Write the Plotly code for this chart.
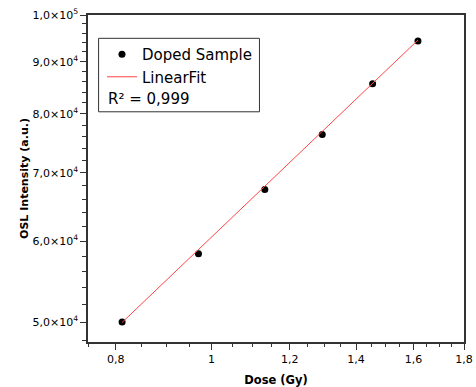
import plotly.graph_objects as go

# ---- data ----
dose = [0.812, 0.970, 1.132, 1.294, 1.455, 1.617]
intensity = [50000, 58320, 67440, 76370, 85620, 94300]
fit_dose = [0.812, 1.617]
fit_intensity = [49950, 94500]

x_tickvals = [0.8, 1.0, 1.2, 1.4, 1.6, 1.8]
x_ticktext = ["0,8", "1", "1,2", "1,4", "1,6", "1,8"]
x_minor = [0.75, 0.85, 0.9, 0.95, 1.05, 1.1, 1.15, 1.25, 1.3, 1.35,
           1.45, 1.5, 1.55, 1.65, 1.7, 1.75]
y_tickvals = [50000, 60000, 70000, 80000, 90000, 100000]
y_ticktext = ["5,0×10<sup>4</sup>", "6,0×10<sup>4</sup>", "7,0×10<sup>4</sup>",
              "8,0×10<sup>4</sup>", "9,0×10<sup>4</sup>", "1,0×10<sup>5</sup>"]
y_minor = [48000, 52000, 54000, 56000, 58000, 62000, 64000, 66000, 68000,
           72000, 74000, 76000, 78000, 82000, 84000, 86000, 88000,
           92000, 94000, 96000, 98000]

FONT = "DejaVu Sans"

fig = go.Figure()
fig.add_trace(go.Scatter(
    x=dose, y=intensity, mode="markers", name="Doped Sample",
    marker=dict(color="black", size=7),
))
fig.add_trace(go.Scatter(
    x=fit_dose, y=fit_intensity, mode="lines", name="LinearFit",
    line=dict(color="rgb(255,70,70)", width=1),
))

L, R, T, B = 87.7, 12, 15, 45.3
W, H = 476, 387
pw, ph = W - L - R, H - T - B

def px(xp):
    return (xp - L) / pw

def py(yp):
    return (H - B - yp) / ph

fig.update_layout(
    width=W, height=H,
    margin=dict(l=L, r=R, t=T, b=B, pad=0, autoexpand=False),
    paper_bgcolor="white", plot_bgcolor="white",
    font=dict(family=FONT, size=11, color="black"),
    showlegend=True,
    legend=dict(
        x=px(101.7), y=py(38), xanchor="left", yanchor="top",
        bgcolor="rgba(0,0,0,0)", borderwidth=0,
        font=dict(family=FONT, size=15, color="black"),
        itemwidth=30,
    ),
    xaxis=dict(
        type="log", range=[-0.12494, 0.25527], automargin=False,
        tickmode="array", tickvals=x_tickvals, ticktext=x_ticktext,
        ticks="outside", ticklen=6, tickwidth=1, tickcolor="#333",
        minor=dict(tickmode="array", tickvals=x_minor, ticks="outside",
                   ticklen=3, tickwidth=1, tickcolor="#333", showgrid=False),
        showgrid=False, zeroline=False,
        showline=True, linecolor="#333", linewidth=1.5, mirror=True,
        tickfont=dict(family=FONT, size=11),
        title=dict(text="<b>Dose (Gy)</b>", font=dict(family=FONT, size=11.5),
                   standoff=11),
    ),
    yaxis=dict(
        type="log", range=[4.67937, 5.0], automargin=False,
        tickmode="array", tickvals=y_tickvals, ticktext=y_ticktext,
        ticks="outside", ticklen=6, tickwidth=1, tickcolor="#333",
        minor=dict(tickmode="array", tickvals=y_minor, ticks="outside",
                   ticklen=4, tickwidth=1, tickcolor="#333", showgrid=False),
        showgrid=False, zeroline=False,
        showline=True, linecolor="#333", linewidth=1.5, mirror=True,
        tickfont=dict(family=FONT, size=11),
        title=dict(text="<b>OSL Intensity (a.u.)</b>", font=dict(family=FONT, size=11),
                   standoff=2),
    ),
    shapes=[dict(
        type="rect", xref="paper", yref="paper",
        x0=px(98.3), x1=px(259.3), y0=py(111.7), y1=py(38.3),
        line=dict(color="#333", width=1), fillcolor="rgba(0,0,0,0)",
    )],
    annotations=[dict(
        text="R² = 0,999", xref="paper", yref="paper",
        x=px(106.0), y=py(98.5), xanchor="left", yanchor="middle",
        showarrow=False, font=dict(family=FONT, size=15, color="black"),
    )],
)

fig.write_html("out.html", config={"displayModeBar": False},
               post_script="document.body.style.margin='0';document.body.style.overflow='hidden';")
